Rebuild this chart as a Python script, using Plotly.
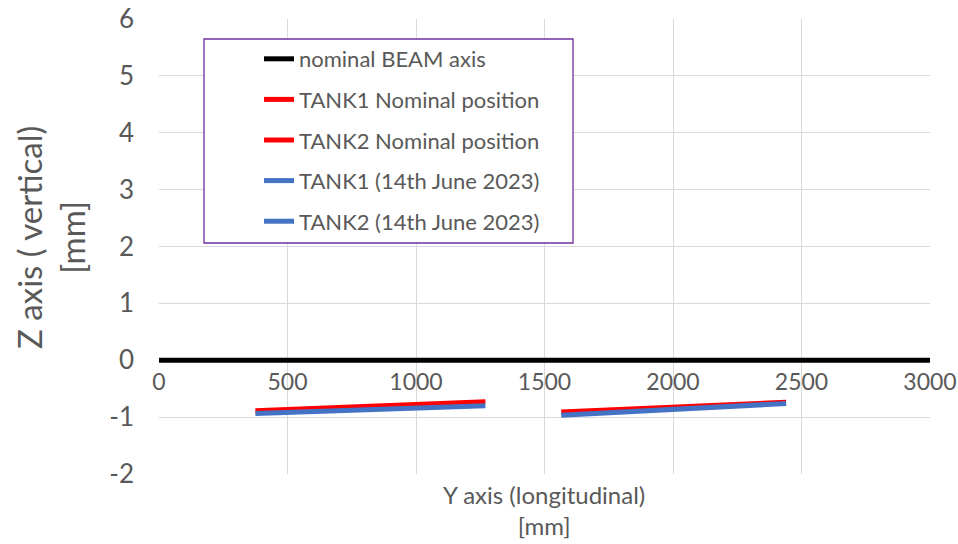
import plotly.graph_objects as go

# Beam axis and tank positions, longitudinal Y [mm] vs vertical Z [mm]
beam_y = [0, 3000]
beam_z = [0, 0]

tank1_nom_y = [375, 1270]
tank1_nom_z = [-0.89, -0.73]
tank2_nom_y = [1565, 2440]
tank2_nom_z = [-0.91, -0.74]

tank1_meas_y = [375, 1270]
tank1_meas_z = [-0.935, -0.80]
tank2_meas_y = [1565, 2440]
tank2_meas_z = [-0.965, -0.76]

x_ticks = [0, 500, 1000, 1500, 2000, 2500, 3000]
y_ticks = [-2, -1, 0, 1, 2, 3, 4, 5, 6]

FONT = "Lato"
GREY = "#595959"

series = [
    ("nominal BEAM axis", beam_y, beam_z, "#000000", 5),
    ("TANK1 Nominal position", tank1_nom_y, tank1_nom_z, "#FF0000", 5),
    ("TANK2 Nominal position", tank2_nom_y, tank2_nom_z, "#FF0000", 5),
    ("TANK1 (14th June 2023)", tank1_meas_y, tank1_meas_z, "#4472C4", 5),
    ("TANK2 (14th June 2023)", tank2_meas_y, tank2_meas_z, "#4472C4", 5),
]

fig = go.Figure()
for i, (name, ys, zs, color, width) in enumerate(series):
    fig.add_trace(go.Scatter(
        x=ys, y=zs, mode="lines", name=name,
        legendgroup=f"g{i}",
        line=dict(color=color, width=width),
    ))

W, H = 958, 544
L, R, T, B = 159, 28, 19, 70
pw, ph = W - L - R, H - T - B


def px_x(p):
    return (p - L) / pw


def px_y(p):
    return (H - B - p) / ph


fig.update_layout(
    width=W, height=H,
    margin=dict(l=L, r=R, t=T, b=B, autoexpand=False),
    paper_bgcolor="white", plot_bgcolor="white",
    font=dict(family=FONT, color=GREY),
    showlegend=True,
    legend=dict(
        x=px_x(259), y=px_y(38), xanchor="left", yanchor="top",
        bgcolor="rgba(0,0,0,0)", borderwidth=0,
        font=dict(size=22, color=GREY, family=FONT),
        tracegroupgap=9,
    ),
    xaxis=dict(
        range=[0, 3000], tickvals=x_ticks, ticktext=[str(v) for v in x_ticks],
        showgrid=True, gridcolor="#d9d9d9", gridwidth=1,
        zeroline=False, showline=False, automargin=False,
        anchor="free", position=0.25,
        tickfont=dict(size=23, color=GREY, family=FONT),
        ticklabelstandoff=6,
    ),
    yaxis=dict(
        range=[-2, 6], tickvals=y_ticks, ticktext=[str(v) for v in y_ticks],
        showgrid=True, gridcolor="#d9d9d9", gridwidth=1,
        zeroline=False, showline=False, automargin=False,
        tickfont=dict(size=26, color=GREY, family=FONT),
        ticklabelstandoff=24,
    ),
    shapes=[dict(
        type="rect", xref="paper", yref="paper",
        x0=px_x(204), x1=px_x(573), y0=px_y(243), y1=px_y(39),
        line=dict(color="#7030A0", width=1.3),
        fillcolor="white", layer="above",
    )],
    annotations=[
        dict(
            text="Y axis (longitudinal)<br>[mm]",
            xref="paper", yref="paper", x=px_x(544), y=px_y(478),
            xanchor="center", yanchor="top", showarrow=False,
            font=dict(size=24, color=GREY, family=FONT),
        ),
        dict(
            text="Z axis ( vertical)<br>[mm]",
            xref="paper", yref="paper", x=px_x(51), y=px_y(238),
            xanchor="center", yanchor="middle", showarrow=False,
            textangle=-90,
            font=dict(size=33, color=GREY, family=FONT),
        ),
    ],
)

fig.write_html("out.html")
